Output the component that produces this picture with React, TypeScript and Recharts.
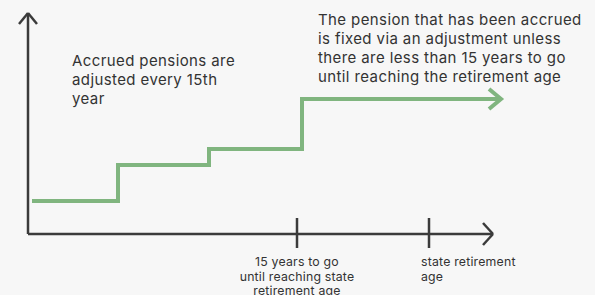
import React from 'react';
import { LineChart, Line, XAxis, YAxis, ReferenceLine } from 'recharts';

// schematic units: 1 unit ~ 1px of the plot area
const stepX = [4, 90, 181, 274, 473];
const pensionLevel = [33, 69, 85, 135, 135];
const tickPositions = [269, 401];
const tickLabels = [
  ['15 years to go', 'until reaching state', 'retirement age'],
  ['state retirement', 'age'],
];
const leftNote = ['Accrued pensions are', 'adjusted every 15th', 'year'];
const rightNote = [
  'The pension that has been accrued',
  'is fixed via an adjustment unless',
  'there are less than 15 years to go',
  'until reaching the retirement age',
];

const data = stepX.map((x, i) => ({ x, level: pensionLevel[i] }));

const AXIS = '#3b3b3b';
const GREEN = '#80b57f';
const TEXT = '#333333';
const FONT = 'Inter, "Noto Sans", sans-serif';

const Tick = (props: any) => {
  const { x, y, index } = props;
  const lines = tickLabels[index] || [];
  const centered = index === 0;
  const tx = centered ? x : x - 8;
  return (
    <g>
      <line x1={x} x2={x} y1={y - 16} y2={y + 14} stroke={AXIS} strokeWidth={2.5} />
      <text
        x={tx}
        y={y + 32}
        textAnchor={centered ? 'middle' : 'start'}
        fill={TEXT}
        fontSize={12.3}
        letterSpacing={0.2}
        fontFamily={FONT}
      >
        {lines.map((l, i) => (
          <tspan key={i} x={tx} dy={i === 0 ? 0 : 14.5}>
            {l}
          </tspan>
        ))}
      </text>
    </g>
  );
};

const ArrowDot = (props: any) => {
  const { cx, cy, index } = props;
  if (index !== data.length - 1) return <g key={index} />;
  return (
    <polyline
      key={index}
      points={`${cx - 12},${cy - 10} ${cx},${cy} ${cx - 12},${cy + 10}`}
      fill="none"
      stroke={GREEN}
      strokeWidth={4}
    />
  );
};

const seg = (a: [number, number], b: [number, number], key: string) => (
  <ReferenceLine
    key={key}
    segment={[{ x: a[0], y: a[1] }, { x: b[0], y: b[1] }]}
    stroke={AXIS}
    strokeWidth={2.5}
    ifOverflow="visible"
  />
);

const noteStyle: React.CSSProperties = {
  position: 'absolute',
  fontFamily: FONT,
  fontSize: 15,
  letterSpacing: 0.4,
  lineHeight: '19px',
  color: TEXT,
  whiteSpace: 'nowrap',
};

const App: React.FC = () => {
  return (
    <div style={{ position: 'absolute', left: 0, top: 0, width: 595, height: 295, background: '#f7f7f7', overflow: 'hidden' }}>
      <LineChart width={595} height={295} data={data} margin={{ top: 14, right: 87, left: 28, bottom: 0 }}>
        <XAxis
          type="number"
          dataKey="x"
          domain={[0, 480]}
          ticks={tickPositions}
          axisLine={false}
          tickLine={false}
          tickSize={0}
          tickMargin={0}
          height={61}
          tick={<Tick />}
          interval={0}
        />
        <YAxis hide type="number" domain={[0, 220]} />
        {seg([0, 0], [0, 221], 'y')}
        {seg([-9, 210], [0, 221], 'ya1')}
        {seg([9, 210], [0, 221], 'ya2')}
        {seg([0, 0], [465, 0], 'x')}
        {seg([455, 11], [465, 0], 'xa1')}
        {seg([455, -11], [465, 0], 'xa2')}
        <Line
          type="stepAfter"
          dataKey="level"
          stroke={GREEN}
          strokeWidth={4}
          dot={ArrowDot}
          activeDot={false}
          isAnimationActive={false}
        />
      </LineChart>
      <div style={{ ...noteStyle, left: 72, top: 51 }}>
        {leftNote.map((l, i) => (
          <div key={i}>{l}</div>
        ))}
      </div>
      <div style={{ ...noteStyle, left: 318, top: 10 }}>
        {rightNote.map((l, i) => (
          <div key={i}>{l}</div>
        ))}
      </div>
    </div>
  );
};

export default App;
